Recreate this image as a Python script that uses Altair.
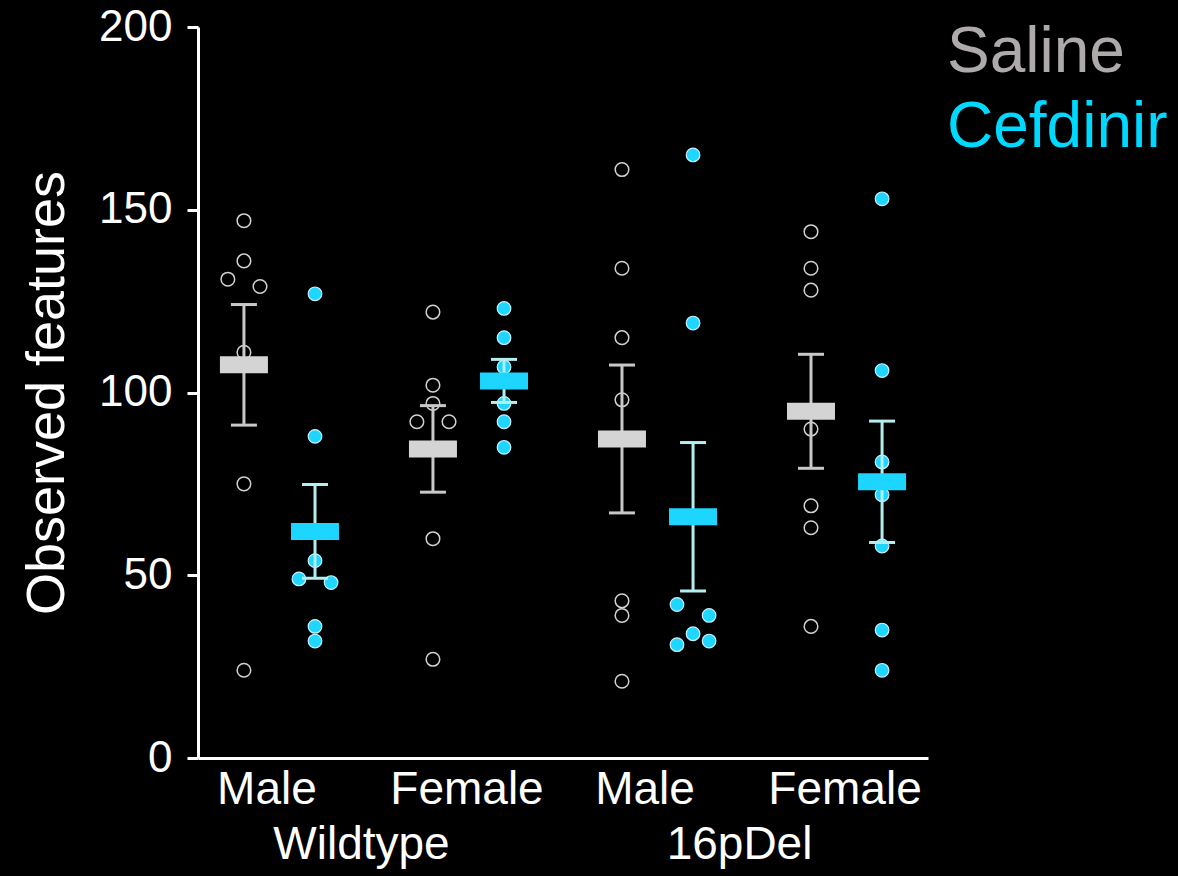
import json
import altair as alt
import pandas as pd

# ---- data -------------------------------------------------------------
sexes = ["Male", "Female", "Male", "Female"]
genotypes = ["Wildtype", "16pDel"]
treatments = ["Saline", "Cefdinir"]

wt_male_saline = [147, 136, 131, 129, 111, 75, 24]
wt_male_cefdinir = [127, 88, 54, 49, 48, 36, 32]
wt_female_saline = [122, 102, 97, 92, 92, 60, 27]
wt_female_cefdinir = [123, 115, 107, 97, 92, 85]
del_male_saline = [161, 134, 115, 98, 43, 39, 21]
del_male_cefdinir = [165, 119, 42, 39, 34, 32, 31]
del_female_saline = [144, 134, 128, 90, 69, 63, 36]
del_female_cefdinir = [153, 106, 81, 72, 58, 35, 24]

group_values = [
    (wt_male_saline, wt_male_cefdinir),
    (wt_female_saline, wt_female_cefdinir),
    (del_male_saline, del_male_cefdinir),
    (del_female_saline, del_female_cefdinir),
]

# ---- styling ----------------------------------------------------------
FONT = "Liberation Sans"
PAIR_GAP = 0.376      # distance between saline and cefdinir columns (x units)
DODGE = 0.085         # sideways shift for overlapping dots (x units)
OVERLAP = 3.5         # values closer than this are treated as overlapping

point_stroke = {"Saline": "#d2d2d2", "Cefdinir": "#c8f2ff"}
point_fill = {"Saline": "transparent", "Cefdinir": "#1ed6ff"}
err_color = {"Saline": "#c8c8c8", "Cefdinir": "#b4efef"}
bar_color = {"Saline": "#d4d4d4", "Cefdinir": "#1dd6ff"}
legend_color = {"Saline": "#aeaaaa", "Cefdinir": "#00d9ff"}


def swarm_offsets(vals):
    """Spread dots whose values nearly coincide to either side of the column."""
    order = sorted(range(len(vals)), key=lambda i: vals[i])
    clusters, cur = [], [order[0]]
    for i in order[1:]:
        if vals[i] - vals[cur[-1]] < OVERLAP:
            cur.append(i)
        else:
            clusters.append(cur)
            cur = [i]
    clusters.append(cur)
    patterns = {1: [0], 2: [1, -1], 3: [-1, 1, 0]}
    offs = [0.0] * len(vals)
    for c in clusters:
        pat = patterns.get(len(c))
        if pat is None:
            pat = [((k + 1) // 2) * (1 if k % 2 else -1) for k in range(len(c))]
        for i, p in zip(c, pat):
            offs[i] = p
    return offs


rows = []
for g, pair in enumerate(group_values):
    for t, vals in enumerate(pair):
        xc = g + (t - 0.5) * PAIR_GAP
        for v, o in zip(vals, swarm_offsets(vals)):
            rows.append({"treatment": treatments[t], "value": v,
                         "xc": xc, "xp": xc + o * DODGE})
df = pd.DataFrame(rows)

x_scale = alt.Scale(domain=[-0.431, 3.431], nice=False, zero=False)
y_scale = alt.Scale(domain=[0, 200], nice=False)
y_axis = alt.Axis(values=[0, 50, 100, 150, 200], title="Observed features",
                  grid=False, domainColor="white", domainWidth=3,
                  tickColor="white", tickWidth=3, tickSize=11,
                  labelColor="white", labelFont=FONT, labelFontSize=44,
                  labelPadding=15, titleColor="white", titleFont=FONT,
                  titleFontSize=54, titleFontWeight="normal", titlePadding=24)

sex_axis = alt.Axis(values=[0, 1, 2, 3], title=None, grid=False,
                    labelExpr=f"{json.dumps(sexes)}[datum.value]",
                    labelOffset={"condition": {"test": "datum.value % 2 == 0",
                                               "value": -13},
                                 "value": -2},
                    domainColor="white", domainWidth=3, ticks=False,
                    labelColor="white", labelFont=FONT, labelFontSize=46,
                    labelPadding=9, labelOverlap=False, orient="bottom")
geno_axis = alt.Axis(values=[0.5, 2.5], title=None, grid=False, domain=False,
                     labelExpr=f"{json.dumps(genotypes)}[floor(datum.value / 2)]",
                     labelOffset=-13,
                     ticks=False, labelColor="white", labelFont=FONT,
                     labelFontSize=46, labelPadding=64, labelOverlap=False,
                     orient="bottom")


def Y(field):
    return alt.Y(f"{field}:Q", scale=y_scale, axis=y_axis)


base = alt.Chart(df)
layers = []

# individual animals
for k, trt in enumerate(treatments):
    pts = base.transform_filter(alt.datum.treatment == trt).mark_point(
        shape="circle", size=185, filled=(trt == "Cefdinir"),
        fill=point_fill[trt], stroke=point_stroke[trt],
        strokeWidth=1.5 if trt == "Saline" else 1.2, opacity=1,
    ).encode(
        x=alt.X("xp:Q", scale=x_scale, axis=sex_axis if k == 0 else None),
        y=Y("value"),
    )
    layers.append(pts)

# mean +/- SEM
for k, trt in enumerate(treatments):
    summ = base.transform_filter(alt.datum.treatment == trt).transform_aggregate(
        mean="mean(value)", sd="stdev(value)", n="count()", groupby=["xc"]
    ).transform_calculate(
        lo="datum.mean - datum.sd / sqrt(datum.n)",
        hi="datum.mean + datum.sd / sqrt(datum.n)",
    )
    rule = summ.mark_rule(color=err_color[trt], strokeWidth=3).encode(
        x=alt.X("xc:Q", scale=x_scale, axis=geno_axis if k == 0 else None),
        y=Y("lo"), y2="hi:Q",
    )
    cap_lo = summ.mark_tick(orient="horizontal", size=26, thickness=3,
                            color=err_color[trt], opacity=1).encode(
        x=alt.X("xc:Q", scale=x_scale, axis=None), y=Y("lo"))
    cap_hi = summ.mark_tick(orient="horizontal", size=26, thickness=3,
                            color=err_color[trt], opacity=1).encode(
        x=alt.X("xc:Q", scale=x_scale, axis=None), y=Y("hi"))
    mean_bar = summ.mark_tick(orient="horizontal", size=48, thickness=17,
                              color=bar_color[trt], opacity=1).encode(
        x=alt.X("xc:Q", scale=x_scale, axis=None), y=Y("mean"))
    layers += [rule, cap_lo, cap_hi, mean_bar]

# treatment key in the top right corner
for i, trt in enumerate(treatments):
    key = alt.Chart(pd.DataFrame({"label": [trt]})).mark_text(
        align="left", baseline="alphabetic", font=FONT, fontSize=64,
        color=legend_color[trt],
    ).encode(text="label:N", x=alt.value(749), y=alt.value(45 + 75 * i))
    layers.append(key)

chart = alt.layer(*layers).properties(
    width=730, height=731, background="black",
    padding={"left": 198, "top": 27, "right": 250, "bottom": 118},
    autosize=alt.AutoSizeParams(type="none"),
).resolve_axis(x="independent").configure_view(stroke=None)

chart.save("out.html", embed_options={"renderer": "svg", "actions": False})
